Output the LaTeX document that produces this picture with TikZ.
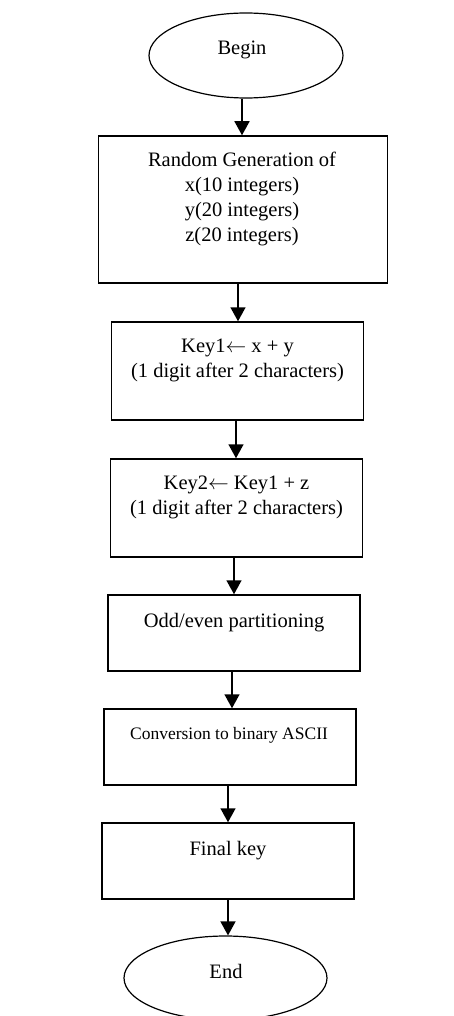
\documentclass[tikz,border=0pt]{standalone}
\usepackage{fontspec}
\setmainfont{Liberation Serif}
\usetikzlibrary{arrows.meta,shapes.geometric}
\tikzset{
  flowbox/.style={draw=black, line width=1.5pt, rectangle, inner sep=0pt},
  flowoval/.style={draw=black, line width=1.2pt, ellipse, inner sep=0pt},
  flowtext/.style={align=center, font=\fontsize{20.5}{25}\selectfont, inner sep=0pt},
  smalltext/.style={align=center, font=\fontsize{17.5}{21}\selectfont, inner sep=0pt},
  flowarrow/.style={draw=black, line width=1.5pt, -{Triangle[width=15pt,length=14pt]}}
}
\begin{document}
\begin{tikzpicture}[x=1pt,y=-1pt]
\useasboundingbox (0,0) rectangle (454,1016);
% Begin
\node[flowoval, minimum width=194pt, minimum height=85pt] (begin) at (246,55.5) {};
\node[flowtext] (begint) at (242,50) {Begin};
% Box 1
\node[flowbox, minimum width=289pt, minimum height=147pt] (b1) at (243,209.5) {};
\node[flowtext] (b1t) at (242,198.5) {Random Generation of\\x(10 integers)\\y(20 integers)\\z(20 integers)};
% Box 2
\node[flowbox, minimum width=252pt, minimum height=98pt] (b2) at (237.5,371) {};
\node[flowtext] (b2t) at (237.5,360) {Key1$\leftarrow$ x + y\\(1 digit after 2 characters)};
% Box 3
\node[flowbox, minimum width=252pt, minimum height=98pt] (b3) at (236.5,508) {};
\node[flowtext] (b3t) at (236.5,497.5) {Key2$\leftarrow$ Key1 + z\\(1 digit after 2 characters)};
% Box 4
\node[flowbox, minimum width=252pt, minimum height=76pt] (b4) at (234,633) {};
\node[flowtext] (b4t) at (234,622.5) {Odd/even partitioning};
% Box 5
\node[flowbox, minimum width=252pt, minimum height=76pt] (b5) at (230,747) {};
\node[smalltext] (b5t) at (229,735) {Conversion to binary ASCII};
% Box 6
\node[flowbox, minimum width=252pt, minimum height=76pt] (b6) at (228,861) {};
\node[flowtext] (b6t) at (228,851) {Final key};
% End
\node[flowoval, minimum width=203pt, minimum height=84pt] (end) at (225.5,978) {};
\node[flowtext] (endt) at (226,971.5) {End};
% arrows
\coordinate (a1s) at (242,98);  \coordinate (a1e) at (242,136);
\coordinate (a2s) at (238,283); \coordinate (a2e) at (238,322);
\coordinate (a3s) at (236,420); \coordinate (a3e) at (236,459);
\coordinate (a4s) at (234,557); \coordinate (a4e) at (234,595);
\coordinate (a5s) at (232,671); \coordinate (a5e) at (232,709);
\coordinate (a6s) at (228,785); \coordinate (a6e) at (228,823);
\coordinate (a7s) at (228,899); \coordinate (a7e) at (228,936);
\draw[flowarrow] (begin.south -| a1s) -- (b1.north -| a1e);
\draw[flowarrow] (b1.south -| a2s) -- (b2.north -| a2e);
\draw[flowarrow] (b2.south -| a3s) -- (b3.north -| a3e);
\draw[flowarrow] (b3.south -| a4s) -- (b4.north -| a4e);
\draw[flowarrow] (b4.south -| a5s) -- (b5.north -| a5e);
\draw[flowarrow] (b5.south -| a6s) -- (b6.north -| a6e);
\draw[flowarrow] (b6.south -| a7s) -- (end.north -| a7e);
\end{tikzpicture}
\end{document}
